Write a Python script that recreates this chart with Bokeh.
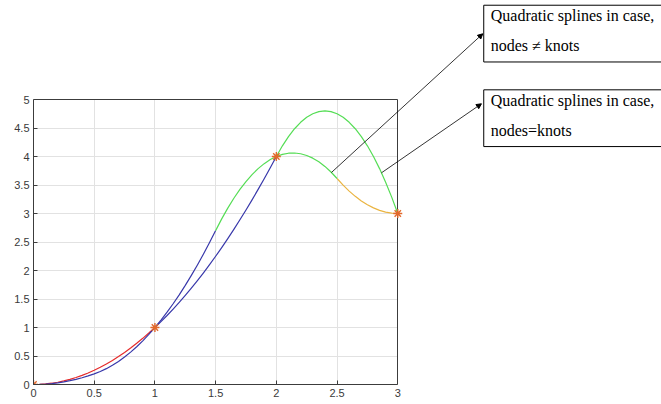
from bokeh.plotting import figure
from bokeh.models import Range1d, FixedTicker, Arrow, NormalHead, Label, Grid
from bokeh.embed import file_html
from bokeh.resources import INLINE

# Interpolation nodes
node_x = [0, 1, 2, 3]
node_y = [0, 1, 4, 3]

# Sample abscissae shared by both spline curves
xs = [0.0, 0.05, 0.1, 0.15, 0.2, 0.25, 0.3, 0.35, 0.4, 0.45, 0.5,
      0.55, 0.6, 0.65, 0.7, 0.75, 0.8, 0.85, 0.9, 0.95, 1.0,
      1.05, 1.1, 1.15, 1.2, 1.25, 1.3, 1.35, 1.4, 1.45, 1.5,
      1.55, 1.6, 1.65, 1.7, 1.75, 1.8, 1.85, 1.9, 1.95, 2.0,
      2.05, 2.1, 2.15, 2.2, 2.25, 2.3, 2.35, 2.4, 2.45, 2.5,
      2.55, 2.6, 2.65, 2.7, 2.75, 2.8, 2.85, 2.9, 2.95, 3.0]

# Quadratic spline, knots placed at the nodes
y_knots_at_nodes = [0.0, 0.0025, 0.01, 0.0225, 0.04, 0.0625, 0.09, 0.1225, 0.16, 0.2025, 0.25,
                    0.3025, 0.36, 0.4225, 0.49, 0.5625, 0.64, 0.7225, 0.81, 0.9025, 1.0,
                    1.1025, 1.21, 1.3225, 1.44, 1.5625, 1.69, 1.8225, 1.96, 2.1025, 2.25,
                    2.4025, 2.56, 2.7225, 2.89, 3.0625, 3.24, 3.4225, 3.61, 3.8025, 4.0,
                    4.1875, 4.35, 4.4875, 4.6, 4.6875, 4.75, 4.7875, 4.8, 4.7875, 4.75,
                    4.6875, 4.6, 4.4875, 4.35, 4.1875, 4.0, 3.7875, 3.55, 3.2875, 3.0]
pieces_eq = [(0.0, 1.0), (1.0, 2.0), (2.0, 3.0)]

# Quadratic spline, knots placed between the nodes
y_knots_between = [0.0, 0.0019, 0.0074, 0.0167, 0.0297, 0.0464, 0.0669, 0.091, 0.1189, 0.1505, 0.1858,
                   0.2273, 0.2778, 0.337, 0.4052, 0.4822, 0.568, 0.6627, 0.7663, 0.8787, 1.0,
                   1.1301, 1.2691, 1.4169, 1.5736, 1.7392, 1.9136, 2.0968, 2.289, 2.4899, 2.7,
                   2.9061, 3.095, 3.2672, 3.4224, 3.5608, 3.6824, 3.7871, 3.8749, 3.9459, 4.0,
                   4.0373, 4.0577, 4.0613, 4.048, 4.0178, 3.9708, 3.907, 3.8262, 3.7287, 3.6142,
                   3.4975, 3.3931, 3.301, 3.2211, 3.1536, 3.0983, 3.0553, 3.0246, 3.0061, 3.0]
pieces_ne = [(0.0, 1.5), (1.5, 2.5), (2.5, 3.0)]

x_ticks = [0, 0.5, 1, 1.5, 2, 2.5, 3]
x_tick_labels = ["0", "0.5", "1", "1.5", "2", "2.5", "3"]
y_ticks = [0, 0.5, 1, 1.5, 2, 2.5, 3, 3.5, 4, 4.5, 5]
y_tick_labels = ["0", "0.5", "1", "1.5", "2", "2.5", "3", "3.5", "4", "4.5", "5"]
x_lim = (0, 3)
y_lim = (0, 5)

RED = "#e52b2b"
BLUE = "#3838aa"
GREEN = "#55dd55"
ORANGE = "#eab441"
STAR = "#e2692c"
AXIS = "#3c3c3c"

# The frame spans the canvas to the right and top so the callouts can sit
# beside the axes box; the axes themselves are bounded to x_lim / y_lim.
p = figure(width=661, height=404, output_backend="svg", toolbar_location=None,
           x_range=Range1d(0, 5.172), y_range=Range1d(0, 6.737),
           min_border_left=33, min_border_right=0,
           min_border_top=0, min_border_bottom=20)
p.background_fill_color = "white"
p.border_fill_color = "white"
p.outline_line_color = None

for ax, ticks, labels, lim in ((p.xaxis[0], x_ticks, x_tick_labels, x_lim),
                               (p.yaxis[0], y_ticks, y_tick_labels, y_lim)):
    ax.ticker = FixedTicker(ticks=ticks)
    ax.major_label_overrides = {t: s for t, s in zip(ticks, labels)}
    ax.bounds = lim
    ax.major_tick_in = 4
    ax.major_tick_out = 0
    ax.minor_tick_line_color = None
    ax.axis_line_color = AXIS
    ax.major_tick_line_color = AXIS
    ax.major_label_text_font = "Liberation Sans"
    ax.major_label_text_font_size = "11px"
    ax.major_label_text_color = "#3a3a3a"
p.xaxis.major_label_standoff = 4
p.yaxis.major_label_standoff = 4

p.xgrid.ticker = FixedTicker(ticks=x_ticks)
p.ygrid.ticker = FixedTicker(ticks=y_ticks)
p.xgrid.bounds = x_lim
p.ygrid.bounds = y_lim
p.xgrid.cross_bounds = y_lim
p.ygrid.cross_bounds = x_lim
p.grid.grid_line_color = "#e2e2e2"
p.grid.grid_line_width = 1

# top and right edges of the axes box
p.add_layout(Grid(dimension=0, ticker=FixedTicker(ticks=[x_lim[1]]), bounds=x_lim,
                  cross_bounds=y_lim, grid_line_color=AXIS, grid_line_width=1))
p.add_layout(Grid(dimension=1, ticker=FixedTicker(ticks=[y_lim[1]]), bounds=y_lim,
                  cross_bounds=x_lim, grid_line_color=AXIS, grid_line_width=1))


def piece(ys, a, b):
    px = [x for x in xs if a - 1e-9 <= x <= b + 1e-9]
    py = [y for x, y in zip(xs, ys) if a - 1e-9 <= x <= b + 1e-9]
    return px, py


for (a, b), c in zip(pieces_eq, (RED, BLUE, GREEN)):
    px, py = piece(y_knots_at_nodes, a, b)
    p.line(px, py, line_color=c, line_width=1.2, line_join="round")

for (a, b), c in zip(pieces_ne, (BLUE, GREEN, ORANGE)):
    px, py = piece(y_knots_between, a, b)
    p.line(px, py, line_color=c, line_width=1.2, line_join="round")

p.scatter(node_x, node_y, marker="asterisk", size=9, line_color=STAR, line_width=1.4)

# Callout arrows from the curves to the text boxes
arrow_starts = [(2.454, 3.72), (2.866, 3.714)]
arrow_ends = [(3.70, 6.153), (3.689, 4.925)]
for (x0, y0), (x1, y1) in zip(arrow_starts, arrow_ends):
    p.add_layout(Arrow(end=NormalHead(size=5, fill_color="black", line_color="black"),
                       x_start=x0, y_start=y0, x_end=x1, y_end=y1,
                       line_color="black", line_width=0.8))

notes = ["Quadratic splines in case,\nnodes \u2260 knots",
         "Quadratic splines in case,\nnodes=knots"]
note_pos = [(3.708, 6.654), (3.708, 5.170)]
for txt, (x, y) in zip(notes, note_pos):
    p.add_layout(Label(x=x, y=y, text=txt, anchor="top_left",
                       text_font="Liberation Serif", text_font_size="16px",
                       text_color="black", text_line_height=1.75,
                       border_line_color="black", border_line_width=1,
                       background_fill_color="white",
                       padding=(7, 40, 2, 8)))

open("out.html", "w").write(file_html(p, INLINE))
